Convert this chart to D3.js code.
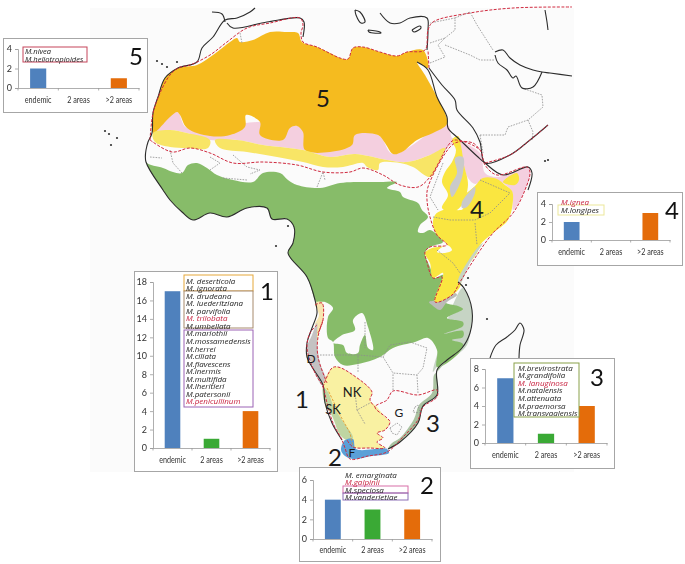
<!DOCTYPE html>
<html>
<head>
<meta charset="utf-8">
<script src="https://cdn.jsdelivr.net/npm/d3@7"></script>
<style>
  html, body { margin: 0; padding: 0; background: #fff; }
  svg { display: block; filter: blur(0.3px); }
  text { font-family: "Open Sans", sans-serif; }
</style>
</head>
<body>
<div id="chart"></div>
<script>
// values
const areaLabels = ['endemic', '2 areas', '>2 areas'];
const counts1 = [17, 1, 4];
const counts2 = [4, 3, 3];
const counts3 = [7, 1, 4];
const counts4 = [2, 0, 3];
const counts5 = [2, 0, 1];

const species1 = ['M. deserticola', 'M. ignorata', 'M. drudeana', 'M. luederitziana', 'M. parvifolia',
  'M. trilobata', 'M.umbellata', 'M.mariothii', 'M.mossamedensis', 'M.herrei', 'M.ciliata',
  'M.flavescens', 'M.inermis', 'M.multifida', 'M.lheritieri', 'M.patersonii', 'M.penicullinum'];
const species2 = ['M. emarginata', 'M.galpinii', 'M.speciosa', 'M.vanderietiae'];
const species3 = ['M.brevirostrata', 'M.grandifolia', 'M. lanuginosa', 'M.natalensis',
  'M.attenuata', 'M.praemorsa', 'M.transvaalensis'];
const species4 = ['M.ignea', 'M.longipes'];
const species5 = ['M.nivea', 'M.heliotropioides'];
const redSpecies = ['M. trilobata', 'M.penicullinum', 'M.galpinii', 'M. lanuginosa', 'M.ignea'];

// map outlines
const sahara = [[153,133],[153,113],[158,97],[165,78],[178,68],[197,65],[213,55],[230,42],[237,38],[240,42],[253,40],[270,32],[287,32],[298,33],[302,42],[317,47],[330,53],[340,58],[348,59],[353,48],[363,47],[380,52],[397,56],[407,52],[423,50],[428,68],[417,62],[425,75],[437,97],[445,113],[447,124],[433,133],[417,140],[402,152],[393,154],[385,143],[378,135],[355,135],[352,145],[330,152],[305,150],[303,132],[297,126],[290,128],[283,140],[260,135],[260,122],[246,115],[245,127],[230,135],[210,136],[187,128],[180,115],[177,112],[170,117]];
const sahelPink = [[153,133],[177,112],[187,128],[260,122],[297,126],[378,135],[393,154],[447,124],[452,138],[456,140],[448,147],[430,155],[407,162],[387,160],[355,154],[330,157],[303,150],[263,145],[237,140],[210,140],[187,133],[170,130]];
const sahelYellowW = [[153,133],[170,130],[187,133],[210,140],[208,148],[187,148],[170,147],[155,142]];
const sahelYellowE = [[215,140],[237,140],[263,145],[303,150],[330,157],[355,154],[387,160],[407,162],[430,155],[445,148],[438,165],[430,177],[413,167],[400,163],[380,163],[378,170],[367,167],[363,163],[343,167],[323,167],[303,162],[277,157],[247,152],[220,148]];
const hornPink = [[452,138],[480,153],[485,173],[497,177],[527,168],[530,172],[525,190],[513,210],[512,192],[497,180],[483,180],[475,184],[468,178],[462,160],[458,145]];
const somaliYellow = [[503,182],[517,173],[519,180],[515,185]];
const region4 = [[435,215],[443,210],[463,209],[461,200],[475,186],[483,178],[497,179],[505,185],[512,191],[513,200],[508,220],[493,233],[480,245],[477,253],[463,272],[460,287],[452,295],[435,302],[443,273],[433,278],[430,263],[425,253],[432,248],[447,245],[437,235],[433,225]];
const region4North = [[452,140],[458,136],[461,146],[464,165],[468,185],[462,205],[452,212],[442,208],[448,195],[442,182],[445,172],[452,162],[456,150]];
const grey4a = [[455,158],[463,157],[463,173],[458,188],[452,197],[450,187],[457,173]];
const grey4b = [[462,202],[475,187],[475,193],[467,207],[462,208]];
const kenyaGrey = [[480,245],[483,243],[470,263],[460,284],[458,281],[470,258]];
const white4 = [[447,245],[452,250],[445,253],[437,252]];
const greenMain = [[146,150],[146,162],[163,168],[173,172],[182,173],[188,165],[197,163],[207,168],[217,175],[233,180],[253,182],[263,173],[280,173],[288,180],[297,185],[320,188],[340,183],[367,182],[380,182],[397,182],[387,188],[400,192],[403,197],[418,203],[422,210],[428,217],[420,225],[418,232],[423,233],[430,230],[443,242],[430,247],[425,253],[430,267],[435,278],[443,275],[435,302],[452,295],[457,287],[445,302],[458,306],[463,309],[447,318],[463,322],[463,326],[444,334],[463,331],[463,337],[452,340],[463,344],[457,355],[437,367],[437,350],[428,338],[415,342],[393,348],[380,357],[358,364],[343,365],[335,357],[333,342],[328,338],[328,317],[333,308],[325,302],[317,302],[315,300],[307,277],[288,253],[293,243],[294,227],[287,219],[272,219],[267,208],[247,208],[227,217],[210,213],[193,220],[182,212],[170,200],[163,190],[146,162]];
const angolaHole = [[353,320],[362,313],[368,327],[373,350],[368,348],[365,335],[360,345],[358,353],[347,353],[343,345],[333,343],[342,335],[355,330]];
const eastCoastSage = [[463,288],[472,310],[470,333],[467,345],[457,355],[437,367],[433,372],[440,345],[455,300]];
const tanzaniaGrey = [[429,302],[438,300],[455,293],[457,295],[447,302],[440,310],[432,305]];
const southCoastSage = [[437,372],[447,360],[438,368],[437,395],[424,405],[418,423],[400,442],[388,449],[392,443],[400,438],[414,419],[419,405],[432,393],[434,375]];
const greyD = [[307,348],[312,335],[317,323],[317,342],[320,363],[327,383],[322,385],[313,367]];
const paleNK = [[323,387],[332,368],[338,367],[353,375],[372,392],[370,400],[377,407],[385,417],[390,422],[385,430],[378,433],[383,438],[377,442],[385,448],[368,448],[353,447],[350,438],[340,420],[330,400]];
const paleStrip = [[317,322],[323,320],[318,337],[318,357],[327,383],[322,372],[317,345]];
const angolaPale = [[315,303],[322,302],[324,312],[323,320],[318,330],[315,325],[319,315]];
const greenSK = [[323,387],[328,392],[333,405],[342,420],[353,438],[347,440],[340,435],[333,418],[325,403],[323,396]];
const blueF = [[345,440],[353,439],[356,449],[387,449],[389,453],[372,456],[353,459],[345,456],[341,450]];

const redLines = [
  [[150,140],[153,113],[160,93],[170,75],[178,68],[190,65],[210,55],[227,42],[247,28],[270,23],[300,18],[303,25],[301,33],[303,42],[317,47],[340,58],[348,59],[353,48],[363,47],[380,52],[397,56],[407,52],[425,50],[428,30],[433,22],[470,13],[513,8],[572,7]],
  [[150,140],[172,152],[190,148],[210,153],[233,163],[263,162],[297,165],[323,172],[350,172],[363,168],[383,175],[400,185],[418,187],[430,177],[450,143],[455,140],[480,150],[485,165],[497,175],[527,167],[530,172],[525,190],[513,213],[493,233],[477,255],[460,282],[452,295],[435,302],[442,277],[433,278],[427,262],[425,252],[430,247],[447,245],[437,235],[430,217],[427,200],[428,187],[450,147],[458,142],[473,143],[480,150]],
  [[485,163],[510,155],[530,140],[548,125]],
  [[429,68],[428,50]],
  [[317,325],[310,333],[307,348],[315,373],[323,387],[327,403],[333,423],[342,440],[345,448],[350,459],[368,456],[387,452],[403,437],[418,420],[423,407],[437,397],[437,390],[418,395],[393,391],[387,400],[375,407],[387,418],[390,422],[385,430],[377,433],[383,438],[377,442],[385,448],[370,448],[353,447],[347,440]],
  [[323,387],[332,368],[338,367],[353,375],[372,392],[370,400],[375,407]],
  [[323,320],[318,337],[318,357],[327,383]],
  [[315,305],[322,303],[323,320],[318,333]]
];
const orangeDash = [[[327,388],[340,415],[350,433],[353,447]]];

const coasts = [
  [[255,8],[250,12],[237,18],[225,20],[213,37],[202,48],[197,62],[178,68],[165,78],[158,97],[153,113],[152,133],[148,142],[146,150]],
  [[212,12],[222,14],[225,22]],
  [[227,23],[233,28],[267,22],[300,18],[304,22],[303,37]],
  [[146,150],[146,162],[163,190],[170,200],[182,212],[193,220],[210,213],[227,217],[247,208],[267,208],[272,219],[287,219],[294,227],[293,243],[288,253],[307,277],[315,300],[317,313],[312,328],[307,343],[307,357],[312,367],[323,385],[325,403],[332,423],[342,440]],
  [[388,449],[400,442],[418,423],[423,406],[437,395],[437,370],[447,360],[462,348],[470,333],[472,310],[464,288],[458,282]],
  [[380,13],[390,23],[400,23],[410,18],[427,18],[428,30],[427,50]],
  [[417,62],[428,70],[437,97],[447,117],[448,128],[458,138],[478,157],[485,163],[503,175],[528,167],[532,173],[528,190]],
  [[429,68],[442,85],[455,100],[457,110],[473,128],[480,142],[485,163],[510,155],[530,140],[548,125]],
  [[495,52],[503,50],[510,58],[520,65],[533,70],[542,72],[550,73],[572,76]],
  [[495,55],[498,63],[507,70],[513,78],[516,76],[522,88],[533,87],[542,72]],
  [[490,358],[496,345],[507,337],[515,330],[520,323],[524,330],[520,345],[519,358]],
  [[355,10],[360,12],[365,22],[361,23],[356,15],[355,10]],
  [[368,30],[380,32],[381,33],[369,32],[368,30]],
  [[412,30],[420,26],[421,28],[414,32],[412,30]],
  [[545,10],[547,22],[548,30]]
];
const dots = [[157,61],[162,64],[167,67],[177,62],[105,131],[109,134],[117,138],[111,145],[288,226],[276,246],[468,278],[466,285],[487,319],[545,161],[548,160]];

const borders = [
  [[150,157],[162,158]], [[170,150],[173,163],[182,173]], [[210,157],[220,163],[210,170]], [[233,155],[247,167],[260,170],[250,174]],
  [[223,178],[247,180]], [[317,187],[323,172],[325,180]], [[240,33],[242,43]],
  [[430,63],[445,57],[438,45],[445,38],[455,30],[455,18],[430,23]], [[455,18],[470,12],[477,25],[493,50]], [[445,45],[470,55],[480,60],[495,60]], [[430,43],[445,38]],
  [[480,135],[505,135],[508,127],[528,120],[543,107],[542,95],[522,88]], [[528,120],[533,132],[532,140]], [[480,135],[483,153]],
  [[433,217],[450,220],[475,220],[490,213],[510,193]], [[480,180],[510,193]], [[475,223],[477,245]], [[437,250],[453,263],[460,273]], [[443,163],[430,197],[438,210]],
  [[320,355],[358,355],[358,373]], [[358,355],[383,357],[390,345],[410,342],[427,348],[423,368],[417,375],[418,393]], [[383,357],[393,373],[417,375]], [[393,390],[393,373]],
  [[415,407],[418,405],[420,413],[413,412],[415,407]], [[390,428],[397,423],[402,427],[397,435],[392,433],[390,428]],
  [[355,392],[357,410],[370,403]], [[357,410],[365,424]], [[365,322],[365,348]]
];

const fills = [
  [sahelPink, '#f4cfdf'], [sahara, '#f5bb1f'], [sahelYellowW, '#f8e566'], [sahelYellowE, '#f8e566'],
  [hornPink, '#f4cfdf'], [somaliYellow, '#fae640'], [eastCoastSage, '#c6d4c4'], [greenMain, '#87bc69'],
  [tanzaniaGrey, '#bbbbb8'], [angolaHole, '#fbfbfb'], [region4North, '#fae640'], [region4, '#fae640'],
  [grey4a, '#cacaca'], [grey4b, '#cacaca'], [kenyaGrey, '#c6d4c4'], [white4, '#fbfbfb'],
  [southCoastSage, '#a9c2a0'], [paleStrip, '#f6e7a0'], [angolaPale, '#f8e6b0'], [greyD, '#c4c2c2'],
  [paleNK, '#f9f1a2'], [greenSK, '#bfd5a2'], [blueF, '#5ba0d8']
];

const svg = d3.select('#chart').append('svg').attr('width', 685).attr('height', 564);

const closedShape = d3.line().curve(d3.curveCatmullRomClosed.alpha(0.5));
const openLine = d3.line();
const softLine = d3.line().curve(d3.curveCatmullRom.alpha(0.5));

svg.append('rect').attr('x', 90).attr('y', 8).attr('width', 484).attr('height', 464).attr('fill', '#fbfbfb');

const map = svg.append('g');
map.selectAll('path.region').data(fills).join('path')
  .attr('class', 'region')
  .attr('d', d => closedShape(d[0]))
  .attr('fill', d => d[1]);

map.selectAll('path.border').data(borders).join('path')
  .attr('class', 'border')
  .attr('d', openLine)
  .attr('fill', 'none').attr('stroke', '#8d8d8d').attr('stroke-width', 0.8).attr('stroke-dasharray', '1.6,1.2');

map.selectAll('path.coast').data(coasts).join('path')
  .attr('class', 'coast')
  .attr('d', softLine)
  .attr('fill', 'none').attr('stroke', '#2c2c2c').attr('stroke-width', 1.1);

map.selectAll('path.red').data(redLines).join('path')
  .attr('class', 'red')
  .attr('d', softLine)
  .attr('fill', 'none').attr('stroke', '#cf2a3f').attr('stroke-width', 1).attr('stroke-dasharray', '3,1.5');

map.selectAll('path.orange').data(orangeDash).join('path')
  .attr('class', 'orange')
  .attr('d', openLine)
  .attr('fill', 'none').attr('stroke', '#e09a30').attr('stroke-width', 0.9).attr('stroke-dasharray', '2.5,1.5');

map.selectAll('circle').data(dots).join('circle')
  .attr('cx', d => d[0]).attr('cy', d => d[1]).attr('r', 1.1).attr('fill', '#333');

// numbers and area codes on the map
const mapLabels = [
  ['5', 323, 97, 24], ['4', 477, 208, 24], ['1', 302, 398, 24], ['2', 335, 456, 24], ['3', 433, 422, 24],
  ['NK', 352, 392, 13], ['SK', 333, 409, 13], ['D', 311, 358, 12], ['G', 399, 412, 12], ['F', 352, 452, 12]
];
svg.selectAll('text.maplabel').data(mapLabels).join('text')
  .attr('class', 'maplabel')
  .attr('x', d => d[1]).attr('y', d => d[2])
  .attr('text-anchor', 'middle').attr('dominant-baseline', 'central')
  .attr('font-size', d => d[3]).attr('fill', '#1a1a1a')
  .style('font-family', 'Lato, sans-serif')
  .text(d => d[0]);

function drawInset(o) {
  const g = svg.append('g');
  g.append('rect').attr('x', o.box[0] + 0.5).attr('y', o.box[1] + 0.5)
    .attr('width', o.box[2] - o.box[0]).attr('height', o.box[3] - o.box[1])
    .attr('fill', '#fff').attr('stroke', '#a6a6a6').attr('stroke-width', 1);

  const x = d3.scaleBand().domain(areaLabels).range(o.xRange).paddingInner(0.6).paddingOuter(0.3);
  const y = d3.scaleLinear().domain([0, o.yMax]).range(o.yRange);

  g.selectAll('rect.bar').data(o.values).join('rect')
    .attr('class', 'bar')
    .attr('x', (d, i) => x(areaLabels[i]))
    .attr('y', d => y(d))
    .attr('width', x.bandwidth())
    .attr('height', d => y(0) - y(d))
    .attr('fill', (d, i) => ['#4f81bd', '#3aa935', '#e46c0a'][i]);

  const yAxis = d3.axisLeft(y).tickValues(d3.range(0, o.yMax + 1, o.yStep)).tickFormat(d3.format('d')).tickSize(3).tickPadding(3);
  const yG = g.append('g').attr('transform', `translate(${o.xRange[0]},0)`).call(yAxis);
  const xAxis = d3.axisBottom(x).tickSize(0).tickPadding(o.xPad);
  const xG = g.append('g').attr('transform', `translate(0,${o.yRange[0]})`).call(xAxis);
  // ticks between the bars, like the spreadsheet chart
  const step = x.step();
  g.selectAll('line.sep').data(d3.range(0, 4)).join('line')
    .attr('class', 'sep')
    .attr('x1', i => o.xRange[0] + i * step).attr('x2', i => o.xRange[0] + i * step)
    .attr('y1', o.yRange[0]).attr('y2', o.yRange[0] + 2.5)
    .attr('stroke', '#9a9a9a').attr('stroke-width', 0.8);
  [yG, xG].forEach(a => {
    a.selectAll('path,line').attr('stroke', '#9a9a9a').attr('stroke-width', 0.8);
    a.selectAll('text').attr('font-size', 9).attr('fill', '#333')
      .style('font-family', 'Lato, sans-serif');
  });
  // the axis labels are condensed in the original
  xG.selectAll('text').each(function () {
    const len = this.getComputedTextLength();
    d3.select(this).attr('textLength', len * 0.8).attr('lengthAdjust', 'spacingAndGlyphs');
  });

  o.boxes.forEach(b => {
    g.append('rect').attr('x', b[0]).attr('y', b[1]).attr('width', b[2] - b[0]).attr('height', b[3] - b[1])
      .attr('fill', b[5] || 'none').attr('stroke', b[4]).attr('stroke-width', b[6] || 1);
  });

  g.selectAll('text.sp').data(o.species).join('text')
    .attr('class', 'sp')
    .attr('x', o.spX)
    .attr('y', (d, i) => o.spY + i * o.spStep)
    .attr('dominant-baseline', 'central')
    .attr('font-size', o.spSize || 8).attr('font-style', 'italic')
    .attr('fill', d => redSpecies.includes(d) ? '#c8213f' : '#222')
    .text(d => d);

  g.append('text').attr('x', o.big[0]).attr('y', o.big[1])
    .attr('text-anchor', 'middle').attr('dominant-baseline', 'central')
    .attr('font-size', 24).attr('fill', '#111')
    .style('font-family', 'Lato, sans-serif')
    .text(o.label);
}

drawInset({ label: '5', values: counts5, box: [3, 38, 147, 112], xRange: [18, 139], yRange: [88, 49], yMax: 4, yStep: 2, xPad: 9,
  species: species5, spX: 25, spY: 51, spStep: 8, spSize: 7.6, big: [136, 55],
  boxes: [[23, 47, 87, 62, '#c5445a']] });
drawInset({ label: '1', values: counts1, box: [134, 271, 277, 471], xRange: [153, 270], yRange: [448, 282], yMax: 18, yStep: 2, xPad: 9,
  species: species1, spX: 186, spY: 280, spStep: 7.56, big: [267, 290],
  boxes: [[184, 275, 253, 291, '#e5a83a', '#fff'], [184, 291, 253, 328, '#a78a6c', '#fff'], [184, 330, 253, 407, '#9b63b5', '#fff']] });
drawInset({ label: '4', values: counts4, box: [537, 192, 682, 265], xRange: [552, 670], yRange: [240, 204], yMax: 4, yStep: 2, xPad: 9,
  species: species4, spX: 561, spY: 201, spStep: 8, big: [672, 209],
  boxes: [[558, 205, 604, 215, '#ece79a']] });
drawInset({ label: '3', values: counts3, box: [470, 358, 614, 468], xRange: [485, 607], yRange: [443, 369], yMax: 8, yStep: 2, xPad: 9,
  species: species3, spX: 518, spY: 367, spStep: 7.65, big: [597, 376],
  boxes: [[514, 363, 579, 417, '#8aa14a', '#fff']] });
drawInset({ label: '2', values: counts2, box: [299, 467, 440, 561], xRange: [313, 432], yRange: [539, 480], yMax: 6, yStep: 2, xPad: 8,
  species: species2, spX: 345, spY: 474, spStep: 7.6, big: [427, 484],
  boxes: [[343, 486, 408, 493, '#d76fa8'], [343, 493, 408, 500, '#8b6fb5'], [342, 471, 342, 478, '#5cab7d'], [409, 471, 409, 478, '#5cab7d']] });
</script>
</body>
</html>
